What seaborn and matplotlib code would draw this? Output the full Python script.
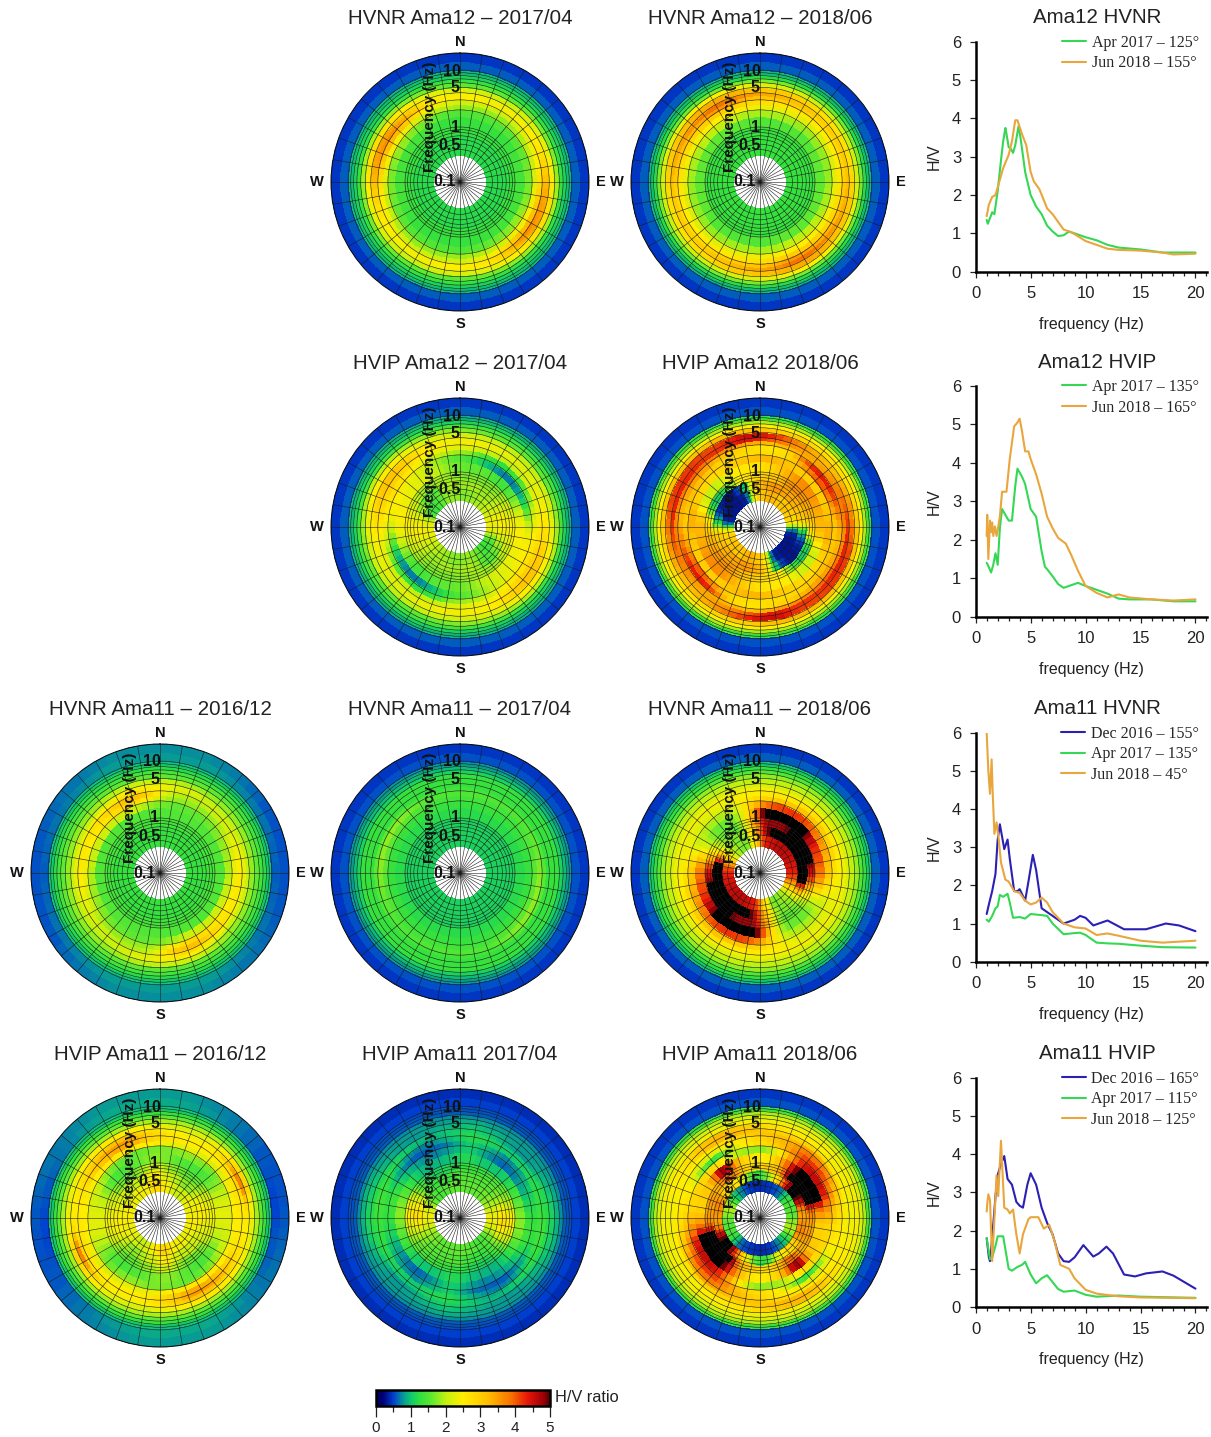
"""
plot.py
H/V polar panels (Ama11, Ama12) with the peak azimuth curves on the right.
"""

import matplotlib
matplotlib.use("Agg")
import matplotlib.pyplot as plt
from matplotlib.cm import ScalarMappable
from matplotlib.colors import LinearSegmentedColormap, Normalize
from matplotlib.ticker import MultipleLocator, NullLocator
import numpy as np
import pandas as pd
import seaborn as sns

W, H = 1211, 1437

# band edges of the polar tables (Hz), rows below go inner to outer
BAND_EDGES = [0.31, 0.5, 0.75, 1, 1.5, 2, 2.5, 3, 3.5, 4, 5, 6, 7, 8.5, 10, 14, 20]
RING_FREQS = [0.4, 0.5, 0.6, 0.7, 0.8, 0.9, 1, 2, 3, 4, 5, 6, 7, 8, 9, 10, 20]

# H/V per band, columns are 15 deg sectors from N clockwise to S, the south half repeats it
HVNR_AMA12_2017 = [
    [1.2] * 12, [1.2] * 12, [1.3] * 12,
    [1.3, 1.3, 1.3, 1.3, 1.4, 1.4, 1.4, 1.4, 1.4, 1.4, 1.3, 1.3],
    [1.5, 1.5, 1.5, 1.5, 1.6, 1.7, 1.7, 1.8, 1.8, 1.7, 1.6, 1.5],
    [1.8, 1.8, 1.8, 1.9, 2.0, 2.1, 2.3, 2.4, 2.4, 2.2, 2.0, 1.9],
    [2.1, 2.1, 2.1, 2.2, 2.4, 2.6, 2.9, 3.2, 3.3, 2.9, 2.4, 2.2],
    [2.5, 2.4, 2.4, 2.5, 2.6, 3.0, 3.4, 3.6, 3.7, 3.3, 2.7, 2.5],
    [2.5, 2.4, 2.4, 2.4, 2.6, 3.0, 3.4, 3.5, 3.5, 3.1, 2.6, 2.4],
    [2.2, 2.1, 2.1, 2.2, 2.3, 2.5, 2.7, 2.8, 2.7, 2.5, 2.3, 2.2],
    [1.6, 1.6, 1.6, 1.7, 1.7, 1.8, 1.9, 1.9, 1.9, 1.8, 1.7, 1.6],
    [1.3] * 12, [1.1] * 12, [0.95] * 12, [0.6] * 12, [0.45] * 12,
]
HVNR_AMA12_2018 = [
    [1.3] * 12, [1.3] * 12, [1.3] * 12,
    [1.5, 1.5, 1.5, 1.5, 1.6, 1.6, 1.6, 1.6, 1.6, 1.6, 1.6, 1.5],
    [1.9, 1.9, 1.8, 1.8, 1.8, 1.8, 1.9, 1.9, 2.0, 2.0, 2.0, 1.9],
    [2.3, 2.3, 2.2, 2.2, 2.2, 2.2, 2.3, 2.4, 2.4, 2.5, 2.5, 2.4],
    [2.7, 2.6, 2.6, 2.5, 2.5, 2.6, 2.7, 2.8, 2.9, 3.0, 3.0, 2.8],
    [3.1, 3.0, 2.9, 2.8, 2.8, 2.9, 3.1, 3.2, 3.3, 3.5, 3.6, 3.2],
    [3.4, 3.2, 3.1, 3.0, 3.0, 3.1, 3.3, 3.4, 3.6, 3.9, 3.9, 3.5],
    [3.1, 3.0, 2.8, 2.7, 2.7, 2.8, 3.0, 3.1, 3.2, 3.4, 3.4, 3.2],
    [2.2, 2.2, 2.1, 2.1, 2.1, 2.1, 2.2, 2.3, 2.4, 2.5, 2.5, 2.3],
    [1.7] * 12, [1.2] * 12, [0.95] * 12, [0.6] * 12, [0.45] * 12,
]
HVIP_AMA12_2017 = [
    [1.7, 1.8, 1.9, 2.0, 2.2, 2.4, 2.3, 1.5, 1.3, 1.5, 1.8, 1.8],
    [1.8, 1.9, 1.8, 1.9, 2.2, 2.5, 2.4, 1.9, 1.6, 1.4, 1.9, 1.9],
    [1.7, 1.7, 1.7, 1.8, 2.1, 2.4, 2.5, 2.2, 1.9, 1.8, 1.9, 1.8],
    [1.6, 1.6, 1.4, 1.4, 1.8, 2.3, 2.5, 2.4, 2.3, 2.2, 2.0, 1.7],
    [1.4, 1.0, 0.7, 0.7, 1.0, 1.8, 2.4, 2.5, 2.4, 2.2, 1.9, 1.6],
    [1.8, 1.3, 1.2, 1.4, 1.7, 2.2, 2.5, 2.7, 2.7, 2.5, 2.1, 1.9],
    [2.2, 2.0, 2.0, 2.1, 2.2, 2.4, 2.7, 2.9, 3.0, 2.7, 2.4, 2.3],
    [2.4, 2.3, 2.2, 2.2, 2.3, 2.5, 2.8, 3.1, 3.2, 2.9, 2.5, 2.4],
    [2.4, 2.3, 2.3, 2.2, 2.3, 2.4, 2.7, 3.0, 3.2, 2.9, 2.5, 2.4],
    [2.1, 2.1, 2.0, 2.0, 2.1, 2.2, 2.4, 2.5, 2.6, 2.4, 2.2, 2.2],
    [1.7, 1.6, 1.6, 1.6, 1.6, 1.8, 1.9, 2.0, 2.0, 1.9, 1.8, 1.8],
    [1.4] * 12, [1.1] * 12, [0.9] * 12, [0.6] * 12, [0.45] * 12,
]
HVIP_AMA12_2018 = [
    [3.2, 3.4, 3.0, 3.2, 3.0, 2.8, 0.4, 0.3, 0.3, 0.3, 0.4, 2.8],
    [3.4, 3.6, 3.4, 3.4, 3.2, 3.0, 1.0, 0.4, 0.3, 0.3, 0.8, 3.0],
    [3.0, 3.2, 3.6, 3.6, 3.4, 3.2, 2.6, 1.2, 1.0, 1.5, 2.6, 2.8],
    [2.8, 3.2, 3.6, 3.7, 3.5, 3.3, 3.2, 2.2, 2.0, 2.2, 2.6, 2.6],
    [3.3, 3.2, 3.0, 3.0, 3.0, 3.2, 3.4, 3.0, 2.8, 2.8, 3.0, 3.2],
    [2.7, 2.8, 3.6, 4.1, 3.8, 3.2, 3.0, 3.2, 3.2, 3.0, 2.8, 2.8],
    [2.6, 2.8, 4.2, 4.4, 4.2, 3.6, 3.2, 3.4, 3.5, 3.4, 3.0, 2.8],
    [3.2, 3.3, 3.4, 3.6, 3.8, 3.8, 3.6, 3.8, 4.0, 3.8, 3.6, 3.4],
    [4.0, 3.6, 3.4, 3.5, 3.8, 4.1, 4.3, 4.3, 4.3, 4.2, 4.2, 4.5],
    [4.3, 3.8, 3.3, 3.2, 3.4, 3.7, 4.0, 4.2, 4.2, 4.1, 4.2, 4.6],
    [3.0, 3.0, 2.8, 2.7, 2.8, 3.0, 3.2, 3.2, 3.2, 3.2, 3.3, 3.2],
    [2.5] * 12, [1.9] * 12, [1.3] * 12, [0.55] * 12, [0.45] * 12,
]
HVNR_AMA11_2016 = [
    [1.3] * 12, [1.3] * 12, [1.4] * 12, [1.5] * 12,
    [1.6, 1.6, 1.6, 1.7, 1.8, 1.9, 2.0, 2.1, 2.1, 2.1, 2.1, 1.8],
    [1.8, 1.8, 1.8, 1.9, 2.1, 2.3, 2.4, 2.5, 2.6, 2.7, 2.9, 2.4],
    [2.0, 1.9, 2.0, 2.1, 2.3, 2.5, 2.6, 2.6, 2.7, 2.9, 3.3, 2.9],
    [2.2, 2.1, 2.1, 2.1, 2.2, 2.3, 2.3, 2.3, 2.4, 2.6, 2.9, 2.6],
    [2.3, 2.2, 2.0, 2.0, 2.0, 2.1, 2.1, 2.1, 2.1, 2.3, 2.5, 2.4],
    [2.0, 1.9, 1.8, 1.8, 1.8, 1.8, 1.8, 1.8, 1.8, 1.9, 2.1, 2.1],
    [1.6] * 12, [1.4] * 12, [1.2] * 12, [1.0] * 12,
    [0.8, 0.8, 0.75, 0.7, 0.65, 0.6, 0.6, 0.65, 0.7, 0.75, 0.8, 0.8],
    [0.75, 0.75, 0.7, 0.6, 0.55, 0.55, 0.55, 0.6, 0.65, 0.7, 0.75, 0.75],
]
HVNR_AMA11_2017 = [
    [1.1] * 12, [1.1] * 12, [1.1] * 12, [1.2] * 12, [1.3] * 12,
    [1.4, 1.4, 1.4, 1.4, 1.5, 1.5, 1.6, 1.6, 1.6, 1.5, 1.4, 1.4],
    [1.5, 1.5, 1.5, 1.5, 1.6, 1.7, 1.8, 1.8, 1.8, 1.7, 1.5, 1.5],
    [1.4, 1.4, 1.4, 1.4, 1.5, 1.5, 1.6, 1.6, 1.6, 1.5, 1.4, 1.4],
    [1.3] * 12, [1.3] * 12, [1.3] * 12, [1.1] * 12, [0.95] * 12,
    [0.8] * 12, [0.55] * 12, [0.45] * 12,
]
HVNR_AMA11_2018 = [
    [4.3, 4.5, 4.6, 4.6, 4.5, 4.4, 4.2, 3.2, 2.0, 1.8, 1.6, 2.8],
    [4.6, 5.6, 5.8, 5.8, 5.7, 5.9, 5.7, 3.6, 1.9, 1.7, 1.7, 3.2],
    [4.8, 4.7, 5.0, 5.7, 5.8, 4.7, 4.2, 2.8, 1.8, 1.5, 1.6, 3.4],
    [5.7, 5.8, 5.7, 4.8, 4.2, 4.0, 3.6, 2.4, 1.7, 1.6, 1.7, 3.2],
    [4.0, 4.2, 4.2, 3.9, 3.5, 3.2, 2.9, 2.2, 1.9, 1.9, 2.0, 3.0],
    [3.0, 3.1, 3.2, 3.1, 2.9, 2.8, 2.6, 2.3, 2.2, 2.2, 2.3, 2.7],
    [2.6, 2.6, 2.7, 2.7, 2.6, 2.5, 2.4, 2.3, 2.3, 2.3, 2.4, 2.5],
    [2.4] * 12, [2.2] * 12, [2.0] * 12, [1.8] * 12, [1.5] * 12,
    [1.25] * 12, [1.0] * 12, [0.6] * 12, [0.45] * 12,
]
HVIP_AMA11_2016 = [
    [2.6, 2.2, 2.0, 2.2, 2.4, 2.4, 2.5, 2.4, 2.3, 2.4, 2.4, 3.0],
    [2.2, 2.0, 1.7, 1.9, 2.4, 2.5, 2.4, 2.2, 2.1, 2.0, 2.1, 2.6],
    [1.9, 1.7, 1.5, 1.7, 2.2, 2.4, 2.3, 2.1, 1.7, 1.6, 1.8, 2.2],
    [1.7, 1.5, 1.4, 1.5, 2.0, 2.3, 2.2, 1.9, 1.5, 1.4, 1.6, 1.8],
    [1.7, 1.8, 1.7, 1.6, 2.0, 2.3, 2.2, 2.1, 1.8, 1.6, 1.6, 1.7],
    [2.3, 2.3, 2.2, 2.2, 2.4, 2.5, 2.5, 2.4, 2.5, 2.6, 2.6, 2.5],
    [2.6, 2.5, 2.5, 2.6, 2.7, 2.6, 2.5, 2.7, 3.0, 3.3, 3.5, 2.9],
    [2.6, 2.5, 2.5, 2.7, 3.0, 2.6, 2.5, 2.7, 3.1, 3.5, 3.6, 2.9],
    [2.5, 2.4, 2.5, 3.2, 4.0, 2.7, 2.5, 2.6, 2.9, 3.2, 3.2, 2.8],
    [2.2, 2.2, 2.3, 2.7, 3.0, 2.4, 2.3, 2.4, 2.5, 2.6, 2.6, 2.4],
    [1.9] * 12, [1.6] * 12, [1.3] * 12, [1.0] * 12,
    [0.85, 0.8, 0.7, 0.6, 0.55, 0.5, 0.55, 0.6, 0.7, 0.8, 0.85, 0.85],
    [0.8, 0.75, 0.7, 0.6, 0.55, 0.55, 0.6, 0.65, 0.7, 0.75, 0.8, 0.8],
]
HVIP_AMA11_2017 = [
    [1.6, 1.6, 1.6, 1.7, 1.9, 2.3, 2.4, 2.0, 1.5, 1.4, 1.5, 1.6],
    [1.5, 1.5, 1.5, 1.6, 1.9, 2.5, 2.8, 2.3, 1.6, 1.3, 1.3, 1.4],
    [1.3, 1.3, 1.4, 1.5, 1.8, 2.3, 2.6, 2.2, 1.5, 1.1, 1.1, 1.2],
    [1.2, 1.0, 1.0, 1.1, 1.4, 1.7, 1.8, 1.6, 1.2, 0.9, 0.9, 1.0],
    [1.1, 0.8, 0.6, 0.7, 0.9, 1.2, 1.4, 1.3, 1.0, 0.8, 0.7, 0.8],
    [1.1, 0.9, 0.7, 0.8, 1.0, 1.2, 1.3, 1.2, 0.8, 0.6, 0.6, 0.7],
    [1.2, 1.1, 1.0, 1.1, 1.2, 1.3, 1.4, 1.3, 1.0, 0.7, 0.7, 0.9],
    [1.2, 1.1, 1.0, 1.0, 1.2, 1.2, 1.4, 1.3, 1.2, 1.0, 0.8, 1.0],
    [1.1, 1.0, 0.8, 0.8, 1.1, 1.2, 1.2, 1.2, 1.1, 1.0, 0.9, 1.0],
    [1.0, 0.9, 0.8, 0.8, 0.9, 1.1, 1.1, 1.0, 0.9, 0.8, 0.8, 0.9],
    [0.9, 0.8, 0.8, 0.8, 0.8, 0.9, 0.9, 0.9, 0.8, 0.8, 0.8, 0.8],
    [0.75] * 12, [0.6] * 12, [0.55] * 12, [0.5] * 12, [0.42] * 12,
]
HVIP_AMA11_2018 = [
    [0.4, 0.5, 0.6, 1.2, 1.5, 1.5, 1.8, 2.0, 1.2, 0.8, 0.5, 0.4],
    [1.5, 2.6, 4.3, 5.6, 4.6, 3.4, 3.6, 3.8, 2.8, 2.8, 2.2, 1.2],
    [3.0, 3.2, 5.3, 5.9, 5.8, 3.8, 3.4, 3.6, 3.2, 4.2, 3.2, 2.7],
    [2.5, 3.4, 5.0, 5.8, 5.7, 3.8, 2.9, 3.0, 3.2, 5.2, 3.2, 2.6],
    [1.8, 3.0, 4.4, 4.6, 4.5, 3.6, 2.8, 2.9, 2.8, 2.8, 2.0, 1.8],
    [2.8, 3.4, 4.2, 4.2, 3.8, 3.2, 2.7, 2.6, 1.8, 1.2, 2.0, 2.7],
    [3.0, 3.4, 3.9, 3.8, 3.3, 2.8, 2.6, 2.5, 2.2, 2.2, 2.5, 2.7],
    [3.2, 3.2, 3.5, 3.3, 2.9, 2.6, 2.5, 2.5, 2.5, 2.6, 2.8, 3.0],
    [3.0, 2.9, 3.0, 2.7, 2.6, 2.4, 2.4, 2.5, 2.6, 3.2, 3.3, 3.2],
    [2.7, 2.6, 2.5, 2.4, 2.4, 2.4, 2.4, 2.5, 2.7, 3.2, 3.3, 3.0],
    [2.4] * 12, [2.2] * 12, [1.9] * 12, [1.3] * 12, [0.55] * 12, [0.45] * 12,
]

# frequency (Hz) and H/V of the curves in the right column
F12NR_APR = [1, 1.1, 1.3, 1.5, 1.7, 1.8, 2, 2.3, 2.5, 2.7, 2.8, 3, 3.2, 3.4, 3.6, 3.9, 4.1, 4.5, 5, 5.5, 6, 6.5, 7, 7.5, 8, 8.5, 9, 10, 11, 12, 13, 15, 17, 20]
V12NR_APR = [1.35, 1.25, 1.4, 1.55, 1.5, 1.7, 2.1, 2.9, 3.4, 3.75, 3.6, 3.25, 3.2, 3.1, 3.3, 3.8, 3.45, 2.6, 2.0, 1.7, 1.5, 1.2, 1.05, 0.93, 0.95, 1.05, 1.0, 0.9, 0.82, 0.7, 0.63, 0.58, 0.5, 0.5]
F12NR_JUN = [1, 1.2, 1.5, 1.8, 2, 2.5, 3, 3.3, 3.6, 3.8, 4.2, 4.6, 5, 5.3, 5.8, 6.5, 7, 8, 8.5, 9, 10, 11, 12, 13, 15, 17, 18, 20]
V12NR_JUN = [1.45, 1.75, 1.95, 2.0, 2.2, 2.7, 3.05, 3.4, 3.95, 3.95, 3.6, 3.3, 2.6, 2.35, 2.15, 1.65, 1.5, 1.1, 1.05, 0.98, 0.8, 0.7, 0.6, 0.57, 0.55, 0.5, 0.45, 0.47]
F12IP_APR = [1, 1.1, 1.4, 1.6, 1.8, 2, 2.2, 2.4, 2.7, 3, 3.3, 3.6, 3.8, 4.2, 4.5, 5, 5.5, 6, 6.3, 6.6, 7, 7.5, 8, 8.5, 9.3, 10, 11, 12, 13, 14, 16, 18, 20]
V12IP_APR = [1.4, 1.35, 1.15, 1.35, 1.65, 1.35, 2.3, 2.8, 2.65, 2.5, 2.5, 3.4, 3.85, 3.65, 3.45, 2.8, 2.6, 1.7, 1.3, 1.2, 1.05, 0.85, 0.75, 0.8, 0.88, 0.8, 0.7, 0.6, 0.47, 0.45, 0.45, 0.4, 0.4]
F12IP_JUN = [1, 1.05, 1.15, 1.3, 1.4, 1.5, 1.6, 1.75, 1.9, 2, 2.2, 2.4, 2.8, 3.1, 3.5, 3.8, 4, 4.2, 4.5, 4.8, 5, 5.5, 6, 6.5, 7, 7.5, 8.2, 8.7, 9.3, 10, 11, 12, 13, 14, 16, 18, 20]
V12IP_JUN = [2.1, 2.65, 1.5, 2.5, 2.2, 2.45, 2.1, 2.35, 2.1, 2.25, 2.6, 3.25, 3.25, 4.1, 4.95, 5.05, 5.15, 4.85, 4.3, 4.3, 4.1, 3.7, 3.2, 2.6, 2.3, 2.05, 1.9, 1.6, 1.2, 0.8, 0.62, 0.5, 0.58, 0.5, 0.45, 0.42, 0.45]
F11NR_DEC = [1, 1.2, 1.5, 1.8, 2, 2.2, 2.6, 2.9, 3.1, 3.5, 3.8, 4, 4.5, 4.8, 5.2, 5.5, 6, 7, 8, 9, 9.5, 10, 10.7, 12, 13.5, 15.5, 17.3, 18.5, 20]
V11NR_DEC = [1.25, 1.5, 1.85, 2.3, 3.2, 3.6, 2.95, 3.2, 2.7, 1.85, 1.85, 1.9, 1.6, 2.1, 2.8, 2.4, 1.4, 1.2, 1.0, 1.1, 1.2, 1.15, 0.95, 1.08, 0.85, 0.85, 1.0, 0.95, 0.8]
F11NR_APR = [1, 1.2, 1.5, 1.8, 2, 2.2, 2.5, 2.9, 3.1, 3.4, 4, 4.5, 5, 6, 6.5, 7, 8, 9, 9.5, 10, 11, 12, 13, 15, 17, 20]
V11NR_APR = [1.1, 1.05, 1.2, 1.4, 1.45, 1.75, 1.7, 1.78, 1.55, 1.15, 1.17, 1.13, 1.25, 1.22, 1.2, 1.0, 0.72, 0.75, 0.76, 0.7, 0.5, 0.48, 0.47, 0.42, 0.38, 0.37]
F11NR_JUN = [1, 1.15, 1.3, 1.45, 1.55, 1.7, 1.9, 2.1, 2.3, 2.7, 3, 3.5, 4, 4.5, 5, 5.5, 6, 6.5, 7, 8, 9, 10, 11, 12, 13, 15, 17, 20]
V11NR_JUN = [6, 5.0, 4.4, 5.3, 4.4, 3.35, 3.65, 3.2, 2.6, 2.15, 2.1, 1.85, 1.8, 1.6, 1.5, 1.55, 1.68, 1.55, 1.3, 1.0, 0.9, 0.87, 0.7, 0.74, 0.68, 0.55, 0.5, 0.55]
F11IP_DEC = [1, 1.2, 1.3, 1.5, 1.8, 2, 2.3, 2.6, 2.9, 3.3, 3.7, 4, 4.3, 4.7, 5, 5.5, 6, 6.5, 7, 7.5, 8, 8.5, 9, 9.8, 10.7, 11.2, 11.9, 12.5, 13.5, 14.5, 15.5, 17, 18, 20]
V11IP_DEC = [1.8, 1.3, 1.2, 1.8, 2.9, 3.45, 3.75, 3.95, 3.35, 3.2, 2.75, 2.65, 2.6, 3.2, 3.5, 3.2, 2.6, 2.2, 1.9, 1.4, 1.2, 1.18, 1.3, 1.62, 1.32, 1.4, 1.58, 1.4, 0.85, 0.8, 0.88, 0.93, 0.82, 0.48]
F11IP_APR = [1, 1.3, 1.5, 1.8, 2, 2.5, 3, 3.3, 3.8, 4.2, 4.5, 5, 5.5, 6, 6.5, 7, 7.5, 8, 9, 10, 11, 13, 15, 20]
V11IP_APR = [1.8, 1.25, 1.3, 1.6, 1.85, 1.85, 1.0, 0.95, 1.05, 1.1, 1.18, 0.85, 0.62, 0.75, 0.83, 0.65, 0.47, 0.4, 0.43, 0.32, 0.27, 0.3, 0.27, 0.24]
F11IP_JUN = [1, 1.05, 1.15, 1.3, 1.5, 1.7, 1.9, 2.05, 2.3, 2.6, 2.9, 3.1, 3.4, 3.7, 4, 4.3, 4.8, 5, 5.7, 6.2, 6.7, 7.2, 7.7, 8.5, 9, 10, 11, 13, 15, 20]
V11IP_JUN = [2.5, 2.7, 2.95, 2.8, 1.2, 2.3, 3.45, 2.9, 4.35, 2.6, 2.55, 2.45, 2.55, 1.9, 1.4, 1.9, 2.3, 2.35, 2.35, 2.05, 2.15, 1.7, 1.1, 1.0, 0.75, 0.45, 0.35, 0.28, 0.25, 0.23]

COL_X = [160, 460, 760]
ROW_Y = [182, 527, 873, 1218]
RADIUS = 129
LINE_TOP = [41.7, 386, 732.7, 1077.7]
LINE_BOTTOM = [271.7, 616.7, 961.7, 1307]

PANELS = [
    ("HVNR Ama12 \u2013 2017/04", HVNR_AMA12_2017, 1, 0),
    ("HVNR Ama12 \u2013 2018/06", HVNR_AMA12_2018, 2, 0),
    ("HVIP Ama12 \u2013 2017/04", HVIP_AMA12_2017, 1, 1),
    ("HVIP Ama12 2018/06", HVIP_AMA12_2018, 2, 1),
    ("HVNR Ama11 \u2013 2016/12", HVNR_AMA11_2016, 0, 2),
    ("HVNR Ama11 \u2013 2017/04", HVNR_AMA11_2017, 1, 2),
    ("HVNR Ama11 \u2013 2018/06", HVNR_AMA11_2018, 2, 2),
    ("HVIP Ama11 \u2013 2016/12", HVIP_AMA11_2016, 0, 3),
    ("HVIP Ama11 2017/04", HVIP_AMA11_2017, 1, 3),
    ("HVIP Ama11 2018/06", HVIP_AMA11_2018, 2, 3),
]

DEC, APR, JUN = "#2a20b4", "#34d854", "#e8a63c"
CURVES = [
    ("Ama12 HVNR", [("Apr 2017 \u2013 125\u00b0", F12NR_APR, V12NR_APR, APR), ("Jun 2018 \u2013 155\u00b0", F12NR_JUN, V12NR_JUN, JUN)]),
    ("Ama12 HVIP", [("Apr 2017 \u2013 135\u00b0", F12IP_APR, V12IP_APR, APR), ("Jun 2018 \u2013 165\u00b0", F12IP_JUN, V12IP_JUN, JUN)]),
    ("Ama11 HVNR", [("Dec 2016 \u2013 155\u00b0", F11NR_DEC, V11NR_DEC, DEC), ("Apr 2017 \u2013 135\u00b0", F11NR_APR, V11NR_APR, APR), ("Jun 2018 \u2013 45\u00b0", F11NR_JUN, V11NR_JUN, JUN)]),
    ("Ama11 HVIP", [("Dec 2016 \u2013 165\u00b0", F11IP_DEC, V11IP_DEC, DEC), ("Apr 2017 \u2013 115\u00b0", F11IP_APR, V11IP_APR, APR), ("Jun 2018 \u2013 125\u00b0", F11IP_JUN, V11IP_JUN, JUN)]),
]

sns.set_theme(style="ticks")
plt.rcParams["font.family"] = ["Liberation Sans", "DejaVu Sans"]
plt.rcParams["axes.edgecolor"] = "black"
plt.rcParams["xtick.color"] = "#222222"
plt.rcParams["ytick.color"] = "#222222"

CMAP = LinearSegmentedColormap.from_list("hv", [
    (0.0, "#000058"), (0.04, "#000078"), (0.1, "#0040d0"), (0.16, "#08a090"),
    (0.2, "#10c870"), (0.25, "#30e040"), (0.32, "#60e830"), (0.4, "#c0f010"),
    (0.5, "#ffee00"), (0.64, "#ffc000"), (0.78, "#f87000"), (0.87, "#e81808"),
    (0.96, "#a00008"), (1.0, "#500000"),
])
CMAP.set_over("black")
NORM = Normalize(0, 5)


def box(x0, y0, x1, y1):
    return [x0 / W, 1 - y1 / H, (x1 - x0) / W, (y1 - y0) / H]


def label(fig, x, y, text, **kw):
    fig.text(x / W, 1 - y / H, text, ha="center", va="center", **kw)


def full_circle(table):
    # 15 deg sectors to 5 deg cells, repeat for the south half, soften along the azimuth
    cells = np.repeat(np.array(table, dtype=float), 3, axis=1)
    cells = np.concatenate([cells, cells], axis=1)
    weights = {-2: 1, -1: 2, 0: 3, 1: 2, 2: 1}
    return sum(w * np.roll(cells, k, axis=1) for k, w in weights.items()) / 9


def draw_polar(fig, title, table, col, row):
    cx, cy = COL_X[col], ROW_Y[row]
    ax = fig.add_axes(box(cx - RADIUS, cy - RADIUS, cx + RADIUS, cy + RADIUS), projection="polar")
    ax.set_theta_zero_location("N")
    ax.set_theta_direction(-1)
    ax.set_rscale("log")
    cells = full_circle(table)
    theta = np.deg2rad(np.linspace(0, 360, cells.shape[1] + 1))
    ax.pcolormesh(theta, BAND_EDGES, cells, cmap=CMAP, norm=NORM, shading="flat")
    ax.set_rlim(0.108, 20)
    ax.set_xticks(np.deg2rad(np.arange(0, 360, 10)))
    ax.set_xticklabels([])
    ax.set_yticks(RING_FREQS)
    ax.set_yticklabels([])
    ax.yaxis.set_minor_locator(NullLocator())
    ax.tick_params(length=0)
    ax.set_axisbelow(False)
    ax.grid(True, color="#1a1a1a", lw=0.4, ls="-")
    ax.spines["polar"].set_linewidth(0.7)

    label(fig, cx, cy - 163.5, title, fontsize=14.8, color="#222222")
    for dx, dy, t in [(0, -140, "N"), (0, 142, "S"), (-143, 0, "W"), (141, 0, "E")]:
        label(fig, cx + dx, cy + dy, t, fontsize=10.5, fontweight="bold", color="#111111")
    for dx, dy, t in [(-15, 0, "0.1"), (-10, -37, "0.5"), (-5, -55, "1"), (-5, -94, "5"), (-8, -111, "10")]:
        label(fig, cx + dx, cy + dy, t, fontsize=11.5, fontweight="bold", color="#111111")
    label(fig, cx - 30, cy - 65, "Frequency (Hz)", fontsize=11, fontweight="bold", rotation=90, color="#111111")


def draw_curves(fig, title, series, top, bottom):
    ax = fig.add_axes(box(975.7, top, 1207, bottom))
    frames = [pd.DataFrame({"freq": f, "hv": v, "series": name}) for name, f, v, _ in series]
    palette = {name: color for name, _, _, color in series}
    sns.lineplot(data=pd.concat(frames), x="freq", y="hv", hue="series", palette=palette,
                 estimator=None, sort=False, lw=1.5, ax=ax)
    ax.set_xlim(0, 21.05)
    ax.set_ylim(0, 6)
    sns.despine(ax=ax)
    for side in ["left", "bottom"]:
        ax.spines[side].set_linewidth(1.8)
    ax.set_xticks([0, 5, 10, 15, 20])
    ax.xaxis.set_minor_locator(MultipleLocator(1))
    ax.set_yticks(range(7))
    ax.tick_params(axis="both", which="major", labelsize=12, length=4.5, width=0.9, pad=6)
    ax.tick_params(axis="x", which="minor", length=3, width=0.9)
    ax.set_xlabel("frequency (Hz)", fontsize=11.5, color="#222222", labelpad=11)
    ax.set_ylabel("H/V", fontsize=11.5, color="#222222", labelpad=7)
    ax.legend(loc="upper right", bbox_to_anchor=(0.965, 1.03), frameon=False, title=None,
              prop={"family": "Liberation Serif", "size": 11.5}, handlelength=1.5,
              labelspacing=0.28, handletextpad=0.35, borderaxespad=0, borderpad=0)
    label(fig, 1097, top - 24, title, fontsize=14.8, color="#222222")


fig = plt.figure(figsize=(W / 100, H / 100), dpi=100)

for title, table, col, row in PANELS:
    draw_polar(fig, title, table, col, row)

for (title, series), top, bottom in zip(CURVES, LINE_TOP, LINE_BOTTOM):
    draw_curves(fig, title, series, top, bottom)

# colour bar under the last row
cax = fig.add_axes(box(376, 1390, 550, 1406))
bar = fig.colorbar(ScalarMappable(norm=NORM, cmap=CMAP), cax=cax, orientation="horizontal")
bar.set_ticks([0, 1, 2, 3, 4, 5])
bar.ax.xaxis.set_minor_locator(MultipleLocator(0.5))
bar.ax.tick_params(axis="x", which="major", length=8, width=0.9, labelsize=11, pad=3)
bar.ax.tick_params(axis="x", which="minor", length=4, width=0.9)
bar.outline.set_linewidth(1.8)
fig.text(555 / W, 1 - 1397 / H, "H/V ratio", ha="left", va="center", fontsize=11.8, color="#222222")

fig.savefig("out.png", dpi=100)
plt.close(fig)
